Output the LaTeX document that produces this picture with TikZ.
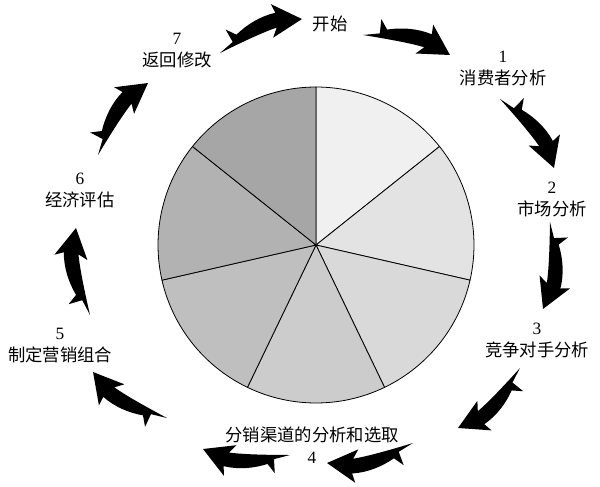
\documentclass[tikz,border=0pt]{standalone}
\usepackage{fontspec}
\setmainfont{Liberation Serif}
\newfontfamily\cjk{Noto Sans CJK SC}
\usetikzlibrary{calc}

% curved barbed arrow from #1 to #2
\newcommand{\swoosh}[2]{%
  \path let \p1=($(#2)-(#1)$) in \pgfextra{%
    \pgfmathsetmacro\swang{atan2(\y1,\x1)}\global\let\swang\swang
    \pgfmathsetmacro\swlen{veclen(\x1,\y1)}\global\let\swlen\swlen};
  \fill[shift={(#1)},rotate=\swang,x=\swlen pt,y=\swlen pt]
    (0,0) .. controls (0.3,0.02) and (0.55,0.03) .. (0.7,0.02)
    -- (0.62,-0.07) -- (1,0) -- (0.74,0.29) -- (0.75,0.18)
    .. controls (0.58,0.21) and (0.4,0.18) .. (0.25,0.12)
    -- (0.16,0.22) -- (0.18,0.06) -- cycle;
}

\begin{document}
\begin{tikzpicture}[x=0.75pt,y=0.75pt,
    lbl/.style={align=center,inner sep=0pt,font=\fontsize{13}{16.5}\selectfont}]
  \useasboundingbox (0,0) rectangle (600,-486);

  % pie
  \coordinate (o) at (316,-245);
  \foreach \i/\g [evaluate=\i as \a using 90-\i*360/7]
      in {0/94,1/89,2/85,3/80,4/75,5/70,6/65}
    \filldraw[fill=white!\g!black,draw=black,line width=0.6pt]
      (o) -- ++(\a:158) arc[start angle=\a,delta angle=-360/7,radius=158] -- cycle;

  % steps
  \node[lbl] (s_0) at (330,-24) {\cjk 开始};
  \node[lbl] (s_1) at (503,-68) {1\\\cjk 消费者分析};
  \node[lbl] (s_2) at (552,-199) {2\\\cjk 市场分析};
  \node[lbl] (s_3) at (537,-340) {3\\\cjk 竞争对手分析};
  \node[lbl] (s_4) at (312,-445) {\cjk 分销渠道的分析和选取\\4};
  \node[lbl] (s_5) at (60,-346) {5\\\cjk 制定营销组合};
  \node[lbl] (s_6) at (80,-190) {6\\\cjk 经济评估};
  \node[lbl] (s_7) at (177,-51) {7\\\cjk 返回修改};

  % arrows round the pie
  \foreach \k/\tx/\ty/\hx/\hy in {0/363/35/450/55, 1/500/99/554/168,
      2/550/222/543/309, 3/520/368/458/428, 4/413/443/327/463,
      5/290/455/203/449, 6/167/418/93/372, 7/90/315/76/228,
      8/98/155/148/83, 9/220/53/302/19}{
    \coordinate (t_\k) at (\tx,-\ty);
    \coordinate (h_\k) at (\hx,-\hy);
    \swoosh{t_\k}{h_\k}
  }
\end{tikzpicture}
\end{document}
